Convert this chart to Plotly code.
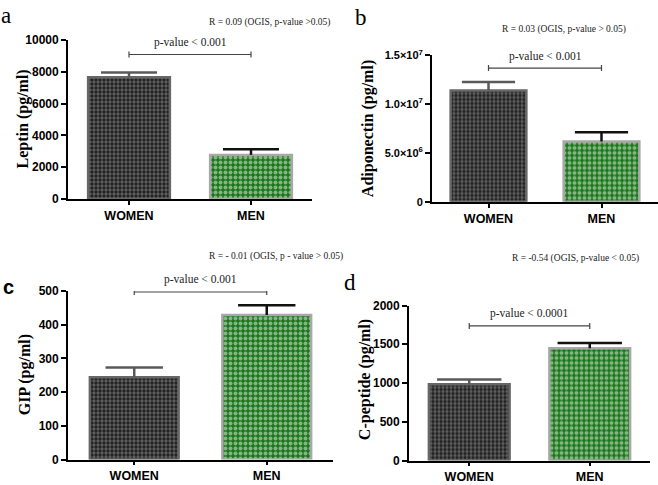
import plotly.graph_objects as go

W, H = 658, 485
groups = ["WOMEN", "MEN"]

leptin_mean = [7650, 2770]
leptin_err = [310, 360]
adipo_mean = [1.142e7, 6.19e6]
adipo_err = [0.087e7, 0.93e6]
gip_mean = [244, 429]
gip_err = [29, 29]
cpep_mean = [984, 1450]
cpep_err = [62, 66]

panels = [
    dict(mean=leptin_mean, err=leptin_err, ymax=10000, tickvals=[0, 2000, 4000, 6000, 8000, 10000],
         ticktext=["0", "2000", "4000", "6000", "8000", "10000"], title="Leptin (pg/ml)",
         letter="a", R="R = 0.09 (OGIS, p-value >0.05)", p="p-value < 0.001", bracket=9085),
    dict(mean=adipo_mean, err=adipo_err, ymax=1.5e7, tickvals=[0, 5e6, 1e7, 1.5e7],
         ticktext=["0", "5.0×10<sup>6</sup>", "1.0×10<sup>7</sup>", "1.5×10<sup>7</sup>"],
         title="Adiponectin (pg/ml)", letter="b", R="R = 0.03 (OGIS, p-value > 0.05)",
         p="p-value < 0.001", bracket=1.371e7),
    dict(mean=gip_mean, err=gip_err, ymax=500, tickvals=[0, 100, 200, 300, 400, 500],
         ticktext=["0", "100", "200", "300", "400", "500"], title="GIP (pg/ml)",
         letter="c", R="R = - 0.01 (OGIS, p - value > 0.05)", p="p-value < 0.001", bracket=497),
    dict(mean=cpep_mean, err=cpep_err, ymax=2000, tickvals=[0, 500, 1000, 1500, 2000],
         ticktext=["0", "500", "1000", "1500", "2000"], title="C-peptide (pg/ml)",
         letter="d", R="R = -0.54 (OGIS, p-value < 0.05)", p="p-value < 0.0001", bracket=1737),
]

# layout geometry (pixels)
geo = [
    dict(x0=68, x1=312, y0=197, y1=33, cap=40, tx=23, ty=115, lx=6, ly=8, lfont="Liberation Serif", lbold=False, Rx=207, Ry=15),
    dict(x0=432, x1=658, y0=200, y1=49, cap=38, tx=368, ty=125, lx=361, ly=10, lfont="Liberation Serif", lbold=False, Rx=500, Ry=22),
    dict(x0=68, x1=333, y0=466, y1=292, cap=41, tx=25, ty=379, lx=8, ly=288, lfont="Liberation Sans", lbold=True, Rx=207, Ry=256),
    dict(x0=409, x1=650, y0=467, y1=307, cap=46, tx=365, ty=383, lx=350, ly=283, lfont="Liberation Serif", lbold=False, Rx=510, Ry=259),
]

styles = [
    dict(bg="#1c1c1c", fg="#5e5e5e", size=4, sol=0.55, line="#676767", ecolor="#5a5a5a"),
    dict(bg="#1c761c", fg="#84b684", size=5, sol=0.5, line="#a8a8a8", ecolor="#111111"),
]

fig = go.Figure()
annotations = []
shapes = []
layout = {}

for i, (pn, g) in enumerate(zip(panels, geo)):
    n = "" if i == 0 else str(i + 1)
    xa, ya = "x" + n, "y" + n
    for j, grp in enumerate(groups):
        st = styles[j]
        fig.add_trace(go.Bar(
            x=[grp], y=[pn["mean"][j]], xaxis=xa, yaxis=ya, width=0.67,
            marker=dict(color=st["bg"], line=dict(color=st["line"], width=2.5),
                        pattern=dict(shape=".", fgcolor=st["fg"], bgcolor=st["bg"],
                                     size=st["size"], solidity=st["sol"], fillmode="replace")),
            error_y=dict(type="data", symmetric=False, array=[pn["err"][j]], arrayminus=[0],
                         color=st["ecolor"], thickness=2.5, width=0),
            showlegend=False, hoverinfo="skip"))
        # error bar cap (top only)
        fig.add_trace(go.Scatter(
            x=[grp], y=[pn["mean"][j] + pn["err"][j]], xaxis=xa, yaxis=ya, mode="markers",
            marker=dict(symbol="line-ew", size=g["cap"], line=dict(color=st["ecolor"], width=2.5)),
            showlegend=False, hoverinfo="skip", cliponaxis=False))
    layout["xaxis" + n] = dict(
        domain=[g["x0"] / W, g["x1"] / W], anchor=ya, type="category",
        categoryorder="array", categoryarray=groups, range=[-0.5, 1.5],
        showline=True, linecolor="black", linewidth=1.8, ticks="outside", ticklen=4,
        tickwidth=1.5, tickcolor="black", showgrid=False, zeroline=False,
        tickfont=dict(family="Liberation Sans", size=12.5, color="black", weight="bold"))
    layout["yaxis" + n] = dict(
        domain=[1 - g["y0"] / H, 1 - g["y1"] / H], anchor=xa, range=[0, pn["ymax"]],
        tickvals=pn["tickvals"], ticktext=pn["ticktext"],
        showline=True, linecolor="black", linewidth=1.8, ticks="outside", ticklen=5,
        tickwidth=1.5, tickcolor="black", showgrid=False, zeroline=False,
        tickfont=dict(family="Liberation Sans", size=12 if i != 1 else 11, color="black", weight="bold"))
    # significance bracket
    shapes.append(dict(type="line", xref=xa, yref=ya, x0=0, x1=1, y0=pn["bracket"], y1=pn["bracket"],
                       line=dict(color="#444444", width=1.2)))
    for xx in (0, 1):
        shapes.append(dict(type="line", xref=xa, yref=ya, x0=xx, x1=xx, ysizemode="pixel",
                           yanchor=pn["bracket"], y0=-3, y1=3, line=dict(color="#444444", width=1.2)))
    annotations.append(dict(x=0.5, y=pn["bracket"], xref=xa, yref=ya, text=pn["p"], showarrow=False,
                            xanchor="center", yanchor="middle", yshift=12,
                            font=dict(family="Liberation Serif", size=11.5, color="#222222")))
    # y title
    annotations.append(dict(x=g["tx"] / W, y=1 - g["ty"] / H, xref="paper", yref="paper",
                            text="<b>" + pn["title"] + "</b>", textangle=-90, showarrow=False,
                            xanchor="center", yanchor="middle",
                            font=dict(family="Liberation Serif", size=16, color="black")))
    # panel letter
    annotations.append(dict(x=g["lx"] / W, y=1 - g["ly"] / H, xref="paper", yref="paper",
                            text=("<b>%s</b>" % pn["letter"]) if g["lbold"] else pn["letter"],
                            showarrow=False, xanchor="center", yanchor="middle",
                            font=dict(family=g["lfont"], size=20 if g["lbold"] else 23, color="black")))
    # R text
    annotations.append(dict(x=g["Rx"] / W, y=1 - g["Ry"] / H, xref="paper", yref="paper",
                            text=pn["R"], showarrow=False, xanchor="left", yanchor="middle",
                            font=dict(family="Liberation Serif", size=9.5, color="#222222")))

fig.update_layout(width=W, height=H, margin=dict(l=0, r=0, t=0, b=0),
                  paper_bgcolor="white", plot_bgcolor="white", barmode="overlay",
                  annotations=annotations, shapes=shapes, **layout)
fig.write_html("out.html", config={"displayModeBar": False},
               post_script="document.body.style.margin='0';document.body.style.overflow='hidden';")
